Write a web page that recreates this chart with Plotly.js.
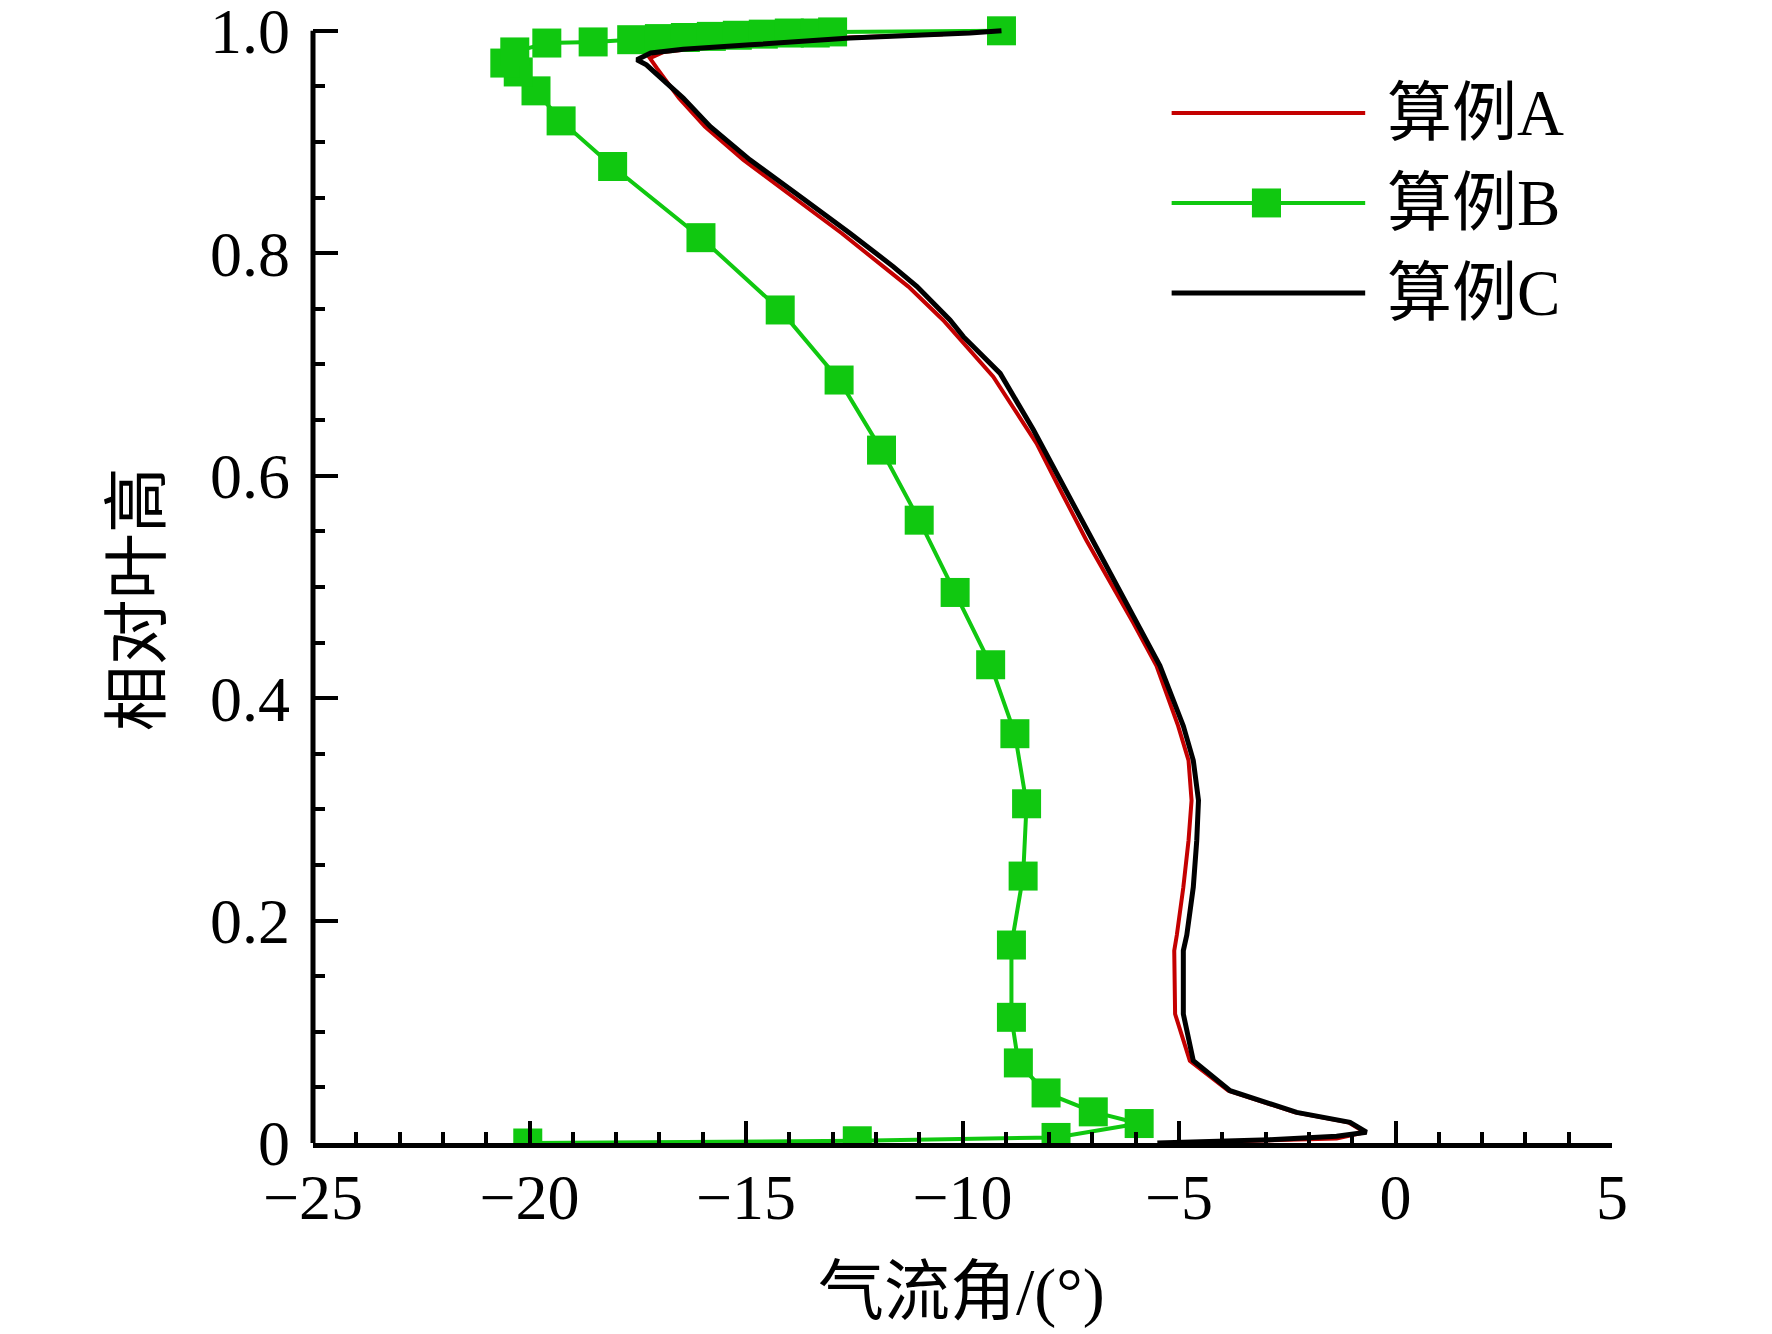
<!DOCTYPE html>
<html>
<head>
<meta charset="utf-8">
<script src="https://cdn.plot.ly/plotly-3.0.1.min.js"></script>
<style>
  html, body { margin: 0; padding: 0; background: #fff; }
  #chart { width: 1772px; height: 1334px; }
</style>
</head>
<body>
<div id="chart"></div>
<script>
// values: x = flow angle (deg), y = relative span
const seriesNames = ['算例A', '算例B', '算例C'];

const caseAx = [-5.2, -2.9, -1.36, -0.71, -1.09, -2.32, -3.86, -4.75, -5.09, -5.11, -5.05, -4.9, -4.78,
  -4.71, -4.78, -5.02, -5.52, -6.06, -7.14, -7.7, -8.29, -9.29, -10.45, -11.25, -12.79, -13.93, -15.06,
  -15.95, -16.55, -17.05, -17.22, -16.9, -16.2, -14.9, -12.6, -10.45];
const caseAy = [0.0, 0.002, 0.004, 0.0097, 0.0186, 0.0275, 0.047, 0.074, 0.116, 0.173, 0.187, 0.23, 0.272,
  0.308, 0.344, 0.375, 0.429, 0.468, 0.542, 0.584, 0.629, 0.689, 0.74, 0.77, 0.818, 0.851, 0.884,
  0.914, 0.9395, 0.966, 0.9755, 0.981, 0.984, 0.988, 0.994, 0.997];

const caseBx = [-20.04, -12.43, -7.84, -5.92, -6.98, -8.07, -8.71, -8.87, -8.87, -8.6, -8.52, -8.79, -9.35,
  -10.17, -11.0, -11.87, -12.85, -14.21, -16.04, -18.08, -19.27, -19.85, -20.26, -20.57, -20.34, -19.6,
  -18.53, -17.64, -17.0, -16.4, -15.8, -15.2, -14.6, -14.0, -13.4, -13.0, -9.1];
const caseBy = [0.0, 0.002, 0.005, 0.0175, 0.028, 0.045, 0.072, 0.113, 0.178, 0.24, 0.305, 0.368, 0.43,
  0.495, 0.56, 0.623, 0.686, 0.749, 0.814, 0.878, 0.919, 0.946, 0.963, 0.971, 0.981, 0.989,
  0.99, 0.992, 0.993, 0.994, 0.995, 0.996, 0.997, 0.998, 0.998, 0.999, 1.0];

const caseCx = [-5.5, -2.9, -1.36, -0.67, -1.05, -2.28, -3.82, -4.67, -4.9, -4.9, -4.82, -4.67, -4.59,
  -4.55, -4.67, -4.9, -5.44, -5.98, -7.02, -7.59, -8.36, -9.13, -9.98, -10.29, -10.67, -11.05, -11.6,
  -12.6, -13.75, -14.91, -15.83, -16.45, -17.3, -17.52, -17.2, -16.45, -14.9, -12.6, -9.83, -9.1];
const caseCy = [0.0, 0.003, 0.006, 0.0097, 0.0186, 0.0275, 0.047, 0.074, 0.116, 0.173, 0.187, 0.23, 0.272,
  0.308, 0.344, 0.375, 0.429, 0.468, 0.542, 0.584, 0.641, 0.692, 0.725, 0.74, 0.755, 0.77, 0.788,
  0.818, 0.851, 0.884, 0.914, 0.9395, 0.9694, 0.974, 0.98, 0.9835, 0.9874, 0.9935, 0.998, 1.0];

const xTickVals = [-25, -20, -15, -10, -5, 0, 5];
const xTickText = ['\u221225', '\u221220', '\u221215', '\u221210', '\u22125', '0', '5'];
const yTickVals = [0, 0.2, 0.4, 0.6, 0.8, 1.0];
const yTickText = ['0', '0.2', '0.4', '0.6', '0.8', '1.0'];

const xTitle = '气流角/(°)';
const yTitle = '相对叶高';

const FONT = 'Liberation Serif, "Noto Sans CJK SC", serif';
const RED = '#c40000';
const GREEN = '#10c810';
const BLACK = '#000000';

const traces = [
  { x: caseAx, y: caseAy, name: seriesNames[0], type: 'scatter', mode: 'lines',
    line: { color: RED, width: 4 } },
  { x: caseBx, y: caseBy, name: seriesNames[1], type: 'scatter', mode: 'lines+markers',
    line: { color: GREEN, width: 4 },
    marker: { symbol: 'square', size: 29, color: GREEN } },
  { x: caseCx, y: caseCy, name: seriesNames[2], type: 'scatter', mode: 'lines',
    line: { color: BLACK, width: 5 } }
];

// hand-made legend (plotly's legend line is too short), in paper units
const legRows = [0.9035, 0.8246, 0.7456];
const legColors = [RED, GREEN, BLACK];
const legX0 = 0.661, legX1 = 0.810, legTextX = 0.825;

const shapes = [
  // y axis line stops at 1.0 while the range leaves room for the top markers
  { type: 'line', xref: 'paper', yref: 'y', x0: 0, x1: 0, y0: 0, y1: 1,
    line: { color: BLACK, width: 5 } }
];
const annotations = [];
legRows.forEach((ry, i) => {
  shapes.push({ type: 'line', xref: 'paper', yref: 'paper', x0: legX0, x1: legX1, y0: ry, y1: ry,
    line: { color: legColors[i], width: i === 2 ? 5 : 4 } });
  annotations.push({ xref: 'paper', yref: 'paper', x: legTextX, y: ry, xanchor: 'left', yanchor: 'middle',
    text: seriesNames[i], showarrow: false, font: { family: FONT, size: 65, color: BLACK } });
});
// square marker on the B sample
shapes.push({ type: 'rect', xref: 'paper', yref: 'paper',
  x0: 0.734 - 0.0112, x1: 0.734 + 0.0112, y0: legRows[1] - 0.0127, y1: legRows[1] + 0.0127,
  fillcolor: GREEN, line: { width: 0 } });

annotations.push({ xref: 'paper', yref: 'paper', x: 0.499, y: -0.131, xanchor: 'center', yanchor: 'middle',
  text: xTitle, showarrow: false, font: { family: FONT, size: 66, color: BLACK } });
annotations.push({ xref: 'paper', yref: 'paper', x: -0.1355, y: 0.477, xanchor: 'center', yanchor: 'middle',
  text: yTitle, textangle: -90, showarrow: false, font: { family: FONT, size: 66, color: BLACK } });

const layout = {
  width: 1772, height: 1334,
  margin: { l: 313, r: 160, t: 3, b: 191 },
  paper_bgcolor: '#fff', plot_bgcolor: '#fff',
  showlegend: false,
  font: { family: FONT, size: 64, color: BLACK },
  xaxis: {
    range: [-25, 5], tickmode: 'array', tickvals: xTickVals, ticktext: xTickText,
    ticks: 'inside', ticklen: 22, tickwidth: 4, tickcolor: BLACK,
    minor: { ticks: 'inside', ticklen: 11, tickwidth: 4, tickcolor: BLACK, dtick: 1, tick0: 0 },
    showline: true, linewidth: 5, linecolor: BLACK,
    showgrid: false, zeroline: false,
    ticklabelstandoff: -6, ticklabeloverflow: 'allow',
    tickfont: { family: FONT, size: 64, color: BLACK }
  },
  yaxis: {
    range: [0, 1.025], tickmode: 'array', tickvals: yTickVals, ticktext: yTickText,
    ticks: 'inside', ticklen: 25, tickwidth: 4, tickcolor: BLACK,
    minor: { ticks: 'inside', ticklen: 12, tickwidth: 4, tickcolor: BLACK, dtick: 0.05, tick0: 0 },
    showline: false, showgrid: false, zeroline: false,
    ticklabelstandoff: 22, ticklabeloverflow: 'allow',
    tickfont: { family: FONT, size: 64, color: BLACK }
  },
  shapes: shapes,
  annotations: annotations
};

Plotly.newPlot('chart', traces, layout, { staticPlot: true });
</script>
</body>
</html>
